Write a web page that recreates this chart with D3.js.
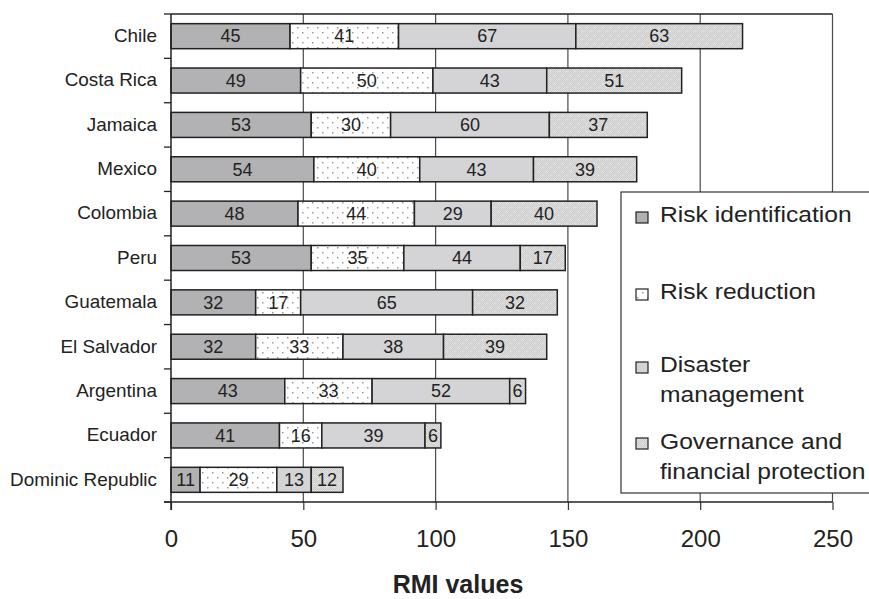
<!DOCTYPE html>
<html>
<head>
<meta charset="utf-8">
<script src="https://cdn.jsdelivr.net/npm/d3@7"></script>
<style>
  html, body { margin: 0; padding: 0; background: #fff; }
  svg { display: block; }
  text { font-family: "Liberation Sans", Arial, Helvetica, sans-serif; fill: #222; }
</style>
</head>
<body>
<svg id="chart" width="869" height="599"></svg>
<script>
const categories = ["Chile", "Costa Rica", "Jamaica", "Mexico", "Colombia", "Peru",
  "Guatemala", "El Salvador", "Argentina", "Ecuador", "Dominic Republic"];
const riskIdentification = [45, 49, 53, 54, 48, 53, 32, 32, 43, 41, 11];
const riskReduction      = [41, 50, 30, 40, 44, 35, 17, 33, 33, 16, 29];
const disasterManagement = [67, 43, 60, 43, 29, 44, 65, 38, 52, 39, 13];
const governance         = [63, 51, 37, 39, 40, 17, 32, 39, 6, 6, 12];
const seriesNames = ["Risk identification", "Risk reduction", "Disaster management", "Governance and financial protection"];
const legendLines = [["Risk identification"], ["Risk reduction"], ["Disaster", "management"], ["Governance and", "financial protection"]];
const xTicks = [0, 50, 100, 150, 200, 250];
const xTitle = "RMI values";

(function () {
const svg = d3.select("#chart");
const defs = svg.append("defs");

// dotted pattern (risk reduction)
const pDot = defs.append("pattern").attr("id", "pDot").attr("patternUnits", "userSpaceOnUse")
  .attr("width", 10).attr("height", 10);
pDot.append("rect").attr("width", 10).attr("height", 10).attr("fill", "#fff");
pDot.append("rect").attr("x", 2).attr("y", 2).attr("width", 1.5).attr("height", 1.5).attr("fill", "#9a9a9a");
pDot.append("rect").attr("x", 7).attr("y", 7).attr("width", 1.5).attr("height", 1.5).attr("fill", "#9a9a9a");

// fine checker pattern (governance)
const pChk = defs.append("pattern").attr("id", "pChk").attr("patternUnits", "userSpaceOnUse")
  .attr("width", 8).attr("height", 8);
pChk.append("rect").attr("width", 8).attr("height", 8).attr("fill", "#dedede");
for (let i = 0; i < 8; i++) for (let j = 0; j < 8; j++) {
  if ((i + j) % 2 === 0) pChk.append("rect").attr("x", i).attr("y", j).attr("width", 1).attr("height", 1).attr("fill", "#cdcdcd");
}
pChk.append("rect").attr("x", 2).attr("y", 3).attr("width", 1.2).attr("height", 1.2).attr("fill", "#f2f2f2");
pChk.append("rect").attr("x", 6).attr("y", 7).attr("width", 1.2).attr("height", 1.2).attr("fill", "#f2f2f2");

const fills = ["#b2b2b4", "url(#pDot)", "#d4d4d6", "url(#pChk)"];

const mLeft = 171, mRight = 832.5, mTop = 14, mBottom = 502;
const x = d3.scaleLinear().domain([0, 250]).range([mLeft, mRight]);
const y = d3.scaleBand().domain(categories).range([mTop, mBottom]).paddingInner(0.436).paddingOuter(0.218);
const yb = d3.scaleBand().domain(categories).range([mTop, mBottom]);

// gridlines
svg.append("g").selectAll("line").data(xTicks.filter(d => d > 0)).join("line")
  .attr("x1", d => x(d)).attr("x2", d => x(d)).attr("y1", mTop).attr("y2", mBottom)
  .attr("stroke", "#4a4a4a").attr("stroke-width", 1.2);

// top border
svg.append("line").attr("x1", mLeft).attr("x2", mRight).attr("y1", mTop).attr("y2", mTop)
  .attr("stroke", "#222").attr("stroke-width", 1.6);

// stacked bars
const rows = categories.map((c, i) => ({ cat: c, vals: [riskIdentification[i], riskReduction[i], disasterManagement[i], governance[i]] }));
const stackData = rows.map(r => { let acc = 0; return r.vals.map((v, k) => { const s = { cat: r.cat, k, v, x0: acc, x1: acc + v }; acc += v; return s; }); }).flat();

svg.append("g").selectAll("rect").data(stackData).join("rect")
  .attr("x", d => x(d.x0)).attr("y", d => y(d.cat))
  .attr("width", d => x(d.x1) - x(d.x0)).attr("height", y.bandwidth())
  .attr("fill", d => fills[d.k]).attr("stroke", "#222").attr("stroke-width", 1.5);

svg.append("g").selectAll("text").data(stackData).join("text")
  .attr("x", d => x((d.x0 + d.x1) / 2)).attr("y", d => y(d.cat) + y.bandwidth() / 2 + 6.3)
  .attr("text-anchor", "middle").style("font-size", "18px").text(d => d.v);

// axes
const xAxis = d3.axisBottom(x).tickValues(xTicks).tickSize(8).tickPadding(20).tickFormat(d3.format("d"));
const gx = svg.append("g").attr("transform", `translate(0,${mBottom})`).call(xAxis);
gx.select(".domain").remove();
gx.append("line").attr("x1", mLeft - 7).attr("x2", mRight).attr("stroke", "#222").attr("stroke-width", 1.5);
gx.selectAll(".tick line").attr("stroke", "#333").attr("stroke-width", 1.2);
gx.selectAll(".tick text").style("font-size", "24px").style("font-family", "'Liberation Sans', Arial, sans-serif").attr("fill", "#222");

// y axis line and boundary ticks
svg.append("line").attr("x1", mLeft).attr("x2", mLeft).attr("y1", mTop).attr("y2", mBottom + 8)
  .attr("stroke", "#222").attr("stroke-width", 1.5);
const bounds = categories.map(c => yb(c)).concat([mBottom]);
svg.append("g").selectAll("line").data(bounds).join("line")
  .attr("x1", mLeft - 7).attr("x2", mLeft).attr("y1", d => d).attr("y2", d => d)
  .attr("stroke", "#222").attr("stroke-width", 1.3);

// category labels
svg.append("g").selectAll("text").data(categories).join("text")
  .attr("transform", d => `translate(157,${y(d) + y.bandwidth() / 2 + 5.8}) scale(1.05,1)`)
  .attr("text-anchor", "end").style("font-size", "18px").text(d => d);

// x title
svg.append("text").attr("x", 458).attr("y", 593).attr("text-anchor", "middle")
  .style("font-size", "25px").style("font-weight", "bold").text(xTitle);

// legend
const lg = svg.append("g");
lg.append("rect").attr("x", 621).attr("y", 192).attr("width", 300).attr("height", 301)
  .attr("fill", "#fff").attr("stroke", "#333").attr("stroke-width", 1.2);
const swY = [212, 289, 362, 438];
const txY = [222, 298.5, 372, 448.5];
seriesNames.forEach((s, i) => {
  lg.append("rect").attr("x", 636).attr("y", swY[i]).attr("width", 12).attr("height", 11)
    .attr("fill", fills[i]).attr("stroke", "#222").attr("stroke-width", 1.2);
  legendLines[i].forEach((ln, j) => {
    lg.append("text").attr("transform", `translate(660,${txY[i] + j * 30}) scale(1.12,1)`)
      .style("font-size", "22px").text(ln);
  });
});
})();
</script>
</body>
</html>
